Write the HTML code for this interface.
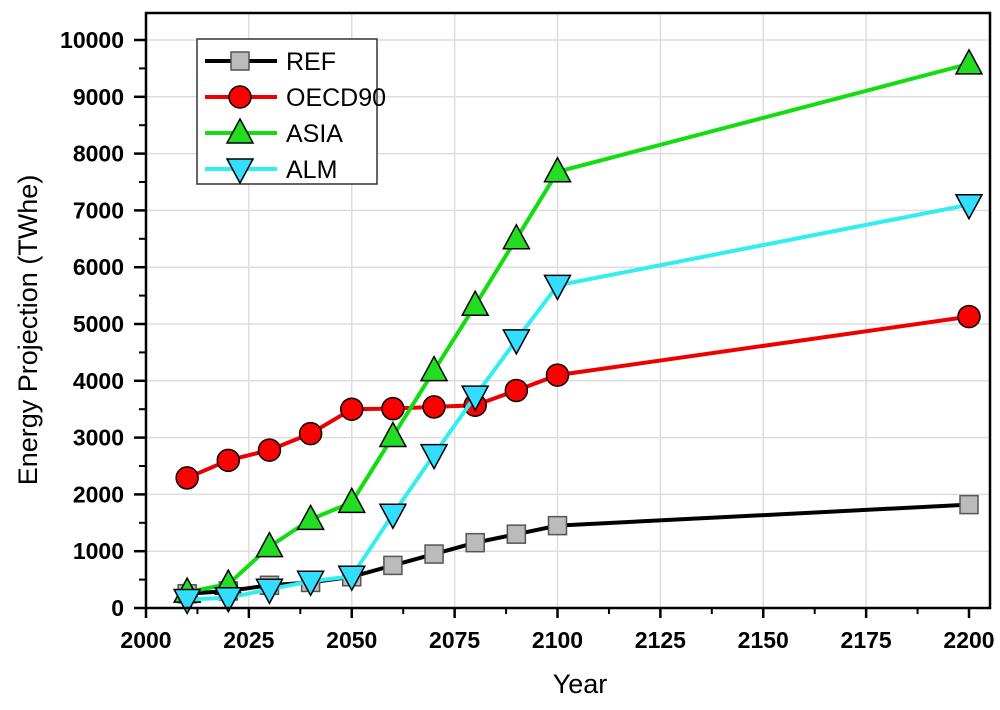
<!DOCTYPE html>
<html><head><meta charset="utf-8"><style>
body{margin:0;background:#fff;}
svg text{font-family:"Liberation Sans",Arial,sans-serif;}
</style></head><body>
<svg id="chart" width="1000" height="705" viewBox="0 0 1000 705" xmlns="http://www.w3.org/2000/svg">
<g id="grid"></g>
<g id="series"></g>
<rect x="146" y="13" width="844" height="595" fill="none" stroke="#000" stroke-width="2.5"/>
<g id="axes"></g>
<text transform="translate(37,330) rotate(-90)" text-anchor="middle" font-size="27">Energy Projection (TWhe)</text>
<text x="580" y="693" text-anchor="middle" font-size="27">Year</text>
<g>
<rect x="197" y="39" width="180" height="145" fill="#fff" stroke="#333" stroke-width="1.5"/>
<g id="legend-items"></g>
</g>
</svg>
<script>
const years = [2010,2020,2030,2040,2050,2060,2070,2080,2090,2100,2200];
const refVals = [250,300,400,450,550,750,950,1150,1300,1450,1820];
const oecdVals = [2290,2600,2780,3070,3500,3510,3540,3570,3830,4100,5130];
const asiaVals = [280,420,1080,1560,1860,3020,4180,5330,6500,7680,9580];
const almVals = [150,180,330,470,560,1650,2700,3730,4720,5680,7100];
const xTicks = [2000,2025,2050,2075,2100,2125,2150,2175,2200];
const yTicks = [0,1000,2000,3000,4000,5000,6000,7000,8000,9000,10000];
const seriesNames = ["REF","OECD90","ASIA","ALM"];

const NS="http://www.w3.org/2000/svg";
const X0=146,X1=990,Y0=608,YT=40;
const xs=v=>146+(v-2000)*(969-146)/200;
const ys=v=>Y0-(v/10000)*(Y0-YT);
function mk(tag,attrs,parent){const e=document.createElementNS(NS,tag);for(const k in attrs)e.setAttribute(k,attrs[k]);parent.appendChild(e);return e;}
const grid=document.getElementById('grid'),axes=document.getElementById('axes'),ser=document.getElementById('series');
xTicks.forEach(t=>{
  const x=xs(t);
  if(t>2000&&t<2200){const g=mk('line',{x1:x,x2:x,y1:13,y2:Y0,stroke:'#ddd','stroke-width':1.5},grid);}
  const tk=mk('line',{x1:x,x2:x,y1:Y0,y2:Y0+10,stroke:'#000','stroke-width':2.5},axes);
  
  if(t<2200){const m=mk('line',{x1:xs(t+12.5),x2:xs(t+12.5),y1:Y0,y2:Y0+6,stroke:'#000','stroke-width':2},axes);}
  const l=mk('text',{x:x,y:Y0+40,'text-anchor':'middle','font-size':23,'font-weight':'bold'},axes);l.textContent=t;
  
});
yTicks.forEach(t=>{
  const y=ys(t);
  if(t>0){const g=mk('line',{x1:X0,x2:X1,y1:y,y2:y,stroke:'#ddd','stroke-width':1.5},grid);}
  const tk=mk('line',{x1:X0-12,x2:X0,y1:y,y2:y,stroke:'#000','stroke-width':2.5},axes);
  
  if(t<10000){const m=mk('line',{x1:X0-7,x2:X0,y1:ys(t+500),y2:ys(t+500),stroke:'#000','stroke-width':2},axes);}
  const l=mk('text',{x:X0-22,y:y+8,'text-anchor':'end','font-size':23,'font-weight':'bold'},axes);l.textContent=t;
  
});
function marker(type,x,y,fill,parent){
  let e;
  if(type==='sq') e=mk('rect',{x:x-9,y:y-9,width:18,height:18,fill:fill,stroke:'#555','stroke-width':1.5},parent);
  else if(type==='ci') e=mk('circle',{cx:x,cy:y,r:11,fill:fill,stroke:'#000','stroke-width':1.5},parent);
  else if(type==='up') e=mk('polygon',{points:`${x},${y-14} ${x-13},${y+10} ${x+13},${y+10}`,fill:fill,stroke:'#000','stroke-width':1.5},parent);
  else e=mk('polygon',{points:`${x},${y+14} ${x-13},${y-10} ${x+13},${y-10}`,fill:fill,stroke:'#000','stroke-width':1.5},parent);
  return e;
}
const defs=[[refVals,'#000','#bbb','sq'],[oecdVals,'#e00','#f00','ci'],[asiaVals,'#1d1','#2d2','up'],[almVals,'#3ee','#3df','dn']];
defs.forEach((d,i)=>{
  const g=mk('g',{},ser);
  
  
  const pl=mk('polyline',{points:years.map((yr,j)=>xs(yr)+','+ys(d[0][j])).join(' '),fill:'none',stroke:d[1],'stroke-width':4},g);
  
  
  years.forEach((yr,j)=>{const m=marker(d[3],xs(yr),ys(d[0][j]),d[2],g);
    
    });
  const lg=document.getElementById('legend-items');
  const ly=61+i*36;
  const li=mk('g',{},lg);
  
  
  mk('line',{x1:205,x2:277,y1:ly,y2:ly,stroke:d[1],'stroke-width':4},li);
  marker(d[3],240,ly,d[2],li);
  const t=mk('text',{x:286,y:ly+9,'font-size':25},li);t.textContent=seriesNames[i];
});
</script>
</body></html>
